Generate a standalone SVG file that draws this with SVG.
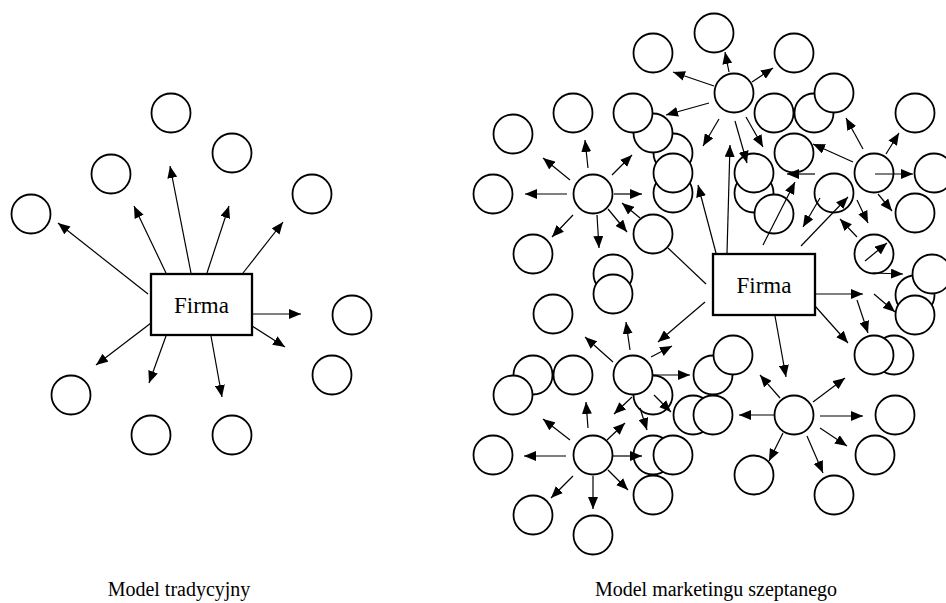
<svg xmlns="http://www.w3.org/2000/svg" width="946" height="603" viewBox="0 0 946 603">
<style>
.n{fill:#fff;stroke:#000;stroke-width:1.8}
.b{fill:#fff;stroke:#000;stroke-width:2.3}
.t{font-family:"Liberation Serif","Times New Roman",serif;fill:#000}
.e line{stroke:#000;stroke-width:1.2;marker-end:url(#ah)}
.e line.p{marker-end:none}
</style>
<defs>
<marker id="ah" viewBox="0 0 12 10" refX="12" refY="5" markerWidth="12" markerHeight="10" markerUnits="userSpaceOnUse" orient="auto"><path d="M0,0 L12,5 L0,10 z" fill="#000"/></marker>
</defs>
<rect width="946" height="603" fill="#fff"/>
<g id="left-nodes">
<g id="l1"><circle class="n" cx="171" cy="113" r="19.5"/></g>
<g id="l2"><circle class="n" cx="232" cy="153" r="19.5"/></g>
<g id="l3"><circle class="n" cx="111" cy="174" r="19.5"/></g>
<g id="l4"><circle class="n" cx="312" cy="194" r="19.5"/></g>
<g id="l5"><circle class="n" cx="31" cy="214" r="19.5"/></g>
<g id="l6"><circle class="n" cx="352" cy="315" r="19.5"/></g>
<g id="l7"><circle class="n" cx="332" cy="375" r="19.5"/></g>
<g id="l8"><circle class="n" cx="71" cy="395" r="19.5"/></g>
<g id="l9"><circle class="n" cx="151" cy="435" r="19.5"/></g>
<g id="l10"><circle class="n" cx="232" cy="435" r="19.5"/></g>
<g id="firma-left"><rect class="b" x="151" y="274" width="101" height="61"/><text class="t" x="201.5" y="313" font-size="23" text-anchor="middle">Firma</text></g>
</g>
<g id="right-nodes">
<g id="r1"><circle class="n" cx="653" cy="53" r="19.5"/></g>
<g id="r2"><circle class="n" cx="714" cy="33" r="19.5"/></g>
<g id="r3"><circle class="n" cx="794" cy="53" r="19.5"/></g>
<g id="r4"><circle class="n" cx="734" cy="93" r="19.5"/></g>
<g id="r5"><circle class="n" cx="774" cy="113" r="19.5"/></g>
<g id="r6"><circle class="n" cx="814" cy="113" r="19.5"/></g>
<g id="r7"><circle class="n" cx="834" cy="93" r="19.5"/></g>
<g id="r8"><circle class="n" cx="915" cy="113" r="19.5"/></g>
<g id="r9"><circle class="n" cx="794" cy="153" r="19.5"/></g>
<g id="r10"><circle class="n" cx="673" cy="193" r="19.5"/></g>
<g id="r11"><circle class="n" cx="673" cy="153" r="19.5"/></g>
<g id="r12"><circle class="n" cx="653" cy="133" r="19.5"/></g>
<g id="r13"><circle class="n" cx="633" cy="113" r="19.5"/></g>
<g id="r14"><circle class="n" cx="673" cy="173" r="19.5"/></g>
<g id="r15"><circle class="n" cx="573" cy="113" r="19.5"/></g>
<g id="r16"><circle class="n" cx="513" cy="134" r="19.5"/></g>
<g id="r17"><circle class="n" cx="493" cy="194" r="19.5"/></g>
<g id="r18"><circle class="n" cx="593" cy="194" r="19.5"/></g>
<g id="r19"><circle class="n" cx="653" cy="234" r="19.5"/></g>
<g id="r20"><circle class="n" cx="533" cy="254" r="19.5"/></g>
<g id="r21"><circle class="n" cx="553" cy="314" r="19.5"/></g>
<g id="r22"><circle class="n" cx="613" cy="274" r="19.5"/></g>
<g id="r23"><circle class="n" cx="613" cy="294" r="19.5"/></g>
<g id="r24"><circle class="n" cx="754" cy="193" r="19.5"/></g>
<g id="r25"><circle class="n" cx="754" cy="173" r="19.5"/></g>
<g id="r26"><circle class="n" cx="774" cy="214" r="19.5"/></g>
<g id="r27"><circle class="n" cx="834" cy="193" r="19.5"/></g>
<g id="r28"><circle class="n" cx="874" cy="173" r="19.5"/></g>
<g id="r29"><circle class="n" cx="934" cy="173" r="19.5"/></g>
<g id="r30"><circle class="n" cx="915" cy="213" r="19.5"/></g>
<g id="r31"><circle class="n" cx="874" cy="254" r="19.5"/></g>
<g id="r32"><circle class="n" cx="915" cy="295" r="19.5"/></g>
<g id="r33"><circle class="n" cx="932" cy="274" r="19.5"/></g>
<g id="r34"><circle class="n" cx="915" cy="315" r="19.5"/></g>
<g id="r35"><circle class="n" cx="894" cy="355" r="19.5"/></g>
<g id="r36"><circle class="n" cx="874" cy="355" r="19.5"/></g>
<g id="r37"><circle class="n" cx="713" cy="375" r="19.5"/></g>
<g id="r38"><circle class="n" cx="733" cy="355" r="19.5"/></g>
<g id="r39"><circle class="n" cx="693" cy="415" r="19.5"/></g>
<g id="r40"><circle class="n" cx="713" cy="415" r="19.5"/></g>
<g id="r41"><circle class="n" cx="794" cy="415" r="19.5"/></g>
<g id="r42"><circle class="n" cx="895" cy="415" r="19.5"/></g>
<g id="r43"><circle class="n" cx="875" cy="455" r="19.5"/></g>
<g id="r44"><circle class="n" cx="754" cy="475" r="19.5"/></g>
<g id="r45"><circle class="n" cx="834" cy="495" r="19.5"/></g>
<g id="r46"><circle class="n" cx="533" cy="375" r="19.5"/></g>
<g id="r47"><circle class="n" cx="573" cy="375" r="19.5"/></g>
<g id="r48"><circle class="n" cx="513" cy="395" r="19.5"/></g>
<g id="r49"><circle class="n" cx="653" cy="395" r="19.5"/></g>
<g id="r50"><circle class="n" cx="633" cy="375" r="19.5"/></g>
<g id="r51"><circle class="n" cx="593" cy="455" r="19.5"/></g>
<g id="r52"><circle class="n" cx="493" cy="455" r="19.5"/></g>
<g id="r53"><circle class="n" cx="653" cy="455" r="19.5"/></g>
<g id="r54"><circle class="n" cx="673" cy="455" r="19.5"/></g>
<g id="r55"><circle class="n" cx="653" cy="495" r="19.5"/></g>
<g id="r56"><circle class="n" cx="533" cy="515" r="19.5"/></g>
<g id="r57"><circle class="n" cx="593" cy="535" r="19.5"/></g>
<g id="firma-right"><rect class="b" x="713" y="254" width="102" height="61"/><text class="t" x="764" y="293" font-size="23" text-anchor="middle">Firma</text></g>
</g>
<g id="connectors" class="e">
<line x1="148" y1="294" x2="58" y2="223"/>
<line x1="166" y1="273" x2="134" y2="206"/>
<line x1="191" y1="273" x2="170" y2="166"/>
<line x1="207" y1="273" x2="229" y2="206"/>
<line x1="243" y1="273" x2="283" y2="222"/>
<line x1="252" y1="314" x2="301" y2="314"/>
<line x1="252" y1="326" x2="285" y2="347"/>
<line x1="211" y1="336" x2="222" y2="397"/>
<line x1="166" y1="336" x2="149" y2="383"/>
<line x1="151" y1="323" x2="96" y2="365"/>

<line x1="815" y1="294" x2="863" y2="294"/>
<line x1="815" y1="306" x2="848" y2="343"/>
<line x1="775" y1="316" x2="786" y2="377"/>
<line x1="705" y1="302" x2="658" y2="342"/>
<line class="p" x1="668" y1="248" x2="706" y2="284"/>
<line x1="716" y1="253" x2="698" y2="185"/>
<line x1="727" y1="253" x2="730" y2="145"/>
<line x1="763" y1="245" x2="795" y2="182"/>
<line x1="801" y1="246" x2="848" y2="197"/>

<line x1="714" y1="86" x2="673" y2="72"/>
<line x1="709" y1="103" x2="666" y2="115"/>
<line x1="719" y1="119" x2="703" y2="146"/>
<line x1="729" y1="72" x2="725" y2="52"/>
<line x1="752" y1="82" x2="773" y2="68"/>
<line x1="746" y1="117" x2="763" y2="147"/>
<line x1="735" y1="121" x2="747" y2="163"/>

<line x1="567" y1="194" x2="525" y2="194"/>
<line x1="570" y1="180" x2="543" y2="158"/>
<line x1="588" y1="168" x2="585" y2="140"/>
<line x1="612" y1="175" x2="632" y2="155"/>
<line x1="614" y1="194" x2="642" y2="194"/>
<line x1="608" y1="209" x2="627" y2="232"/>
<line x1="597" y1="215" x2="599" y2="248"/>
<line x1="573" y1="215" x2="552" y2="237"/>
<line x1="640" y1="218" x2="622" y2="203"/>

<line x1="863" y1="149" x2="846" y2="118"/>
<line x1="853" y1="162" x2="813" y2="144"/>
<line x1="886" y1="154" x2="899" y2="133"/>
<line x1="875" y1="174" x2="913" y2="174"/>
<line x1="878" y1="194" x2="892" y2="211"/>
<line x1="857" y1="200" x2="868" y2="223"/>
<line x1="815" y1="174" x2="787" y2="174"/>
<line x1="820" y1="198" x2="803" y2="227"/>
<line x1="857" y1="237" x2="840" y2="219"/>
<line x1="865" y1="261" x2="887" y2="243"/>
<line x1="873" y1="273" x2="903" y2="274"/>
<line x1="857" y1="300" x2="868" y2="333"/>
<line x1="874" y1="294" x2="895" y2="312"/>

<line x1="780" y1="398" x2="760" y2="375"/>
<line x1="813" y1="402" x2="845" y2="378"/>
<line x1="774" y1="415" x2="739" y2="415"/>
<line x1="820" y1="416" x2="863" y2="416"/>
<line x1="820" y1="428" x2="847" y2="446"/>
<line x1="807" y1="436" x2="823" y2="473"/>
<line x1="783" y1="433" x2="769" y2="461"/>

<line x1="630" y1="350" x2="626" y2="322"/>
<line x1="613" y1="362" x2="585" y2="337"/>
<line x1="651" y1="357" x2="672" y2="346"/>
<line x1="653" y1="375" x2="690" y2="375"/>
<line x1="654" y1="395" x2="671" y2="412"/>
<line x1="640" y1="408" x2="647" y2="430"/>
<line x1="632" y1="397" x2="614" y2="414"/>

<line x1="588" y1="428" x2="586" y2="402"/>
<line x1="570" y1="440" x2="543" y2="419"/>
<line x1="607" y1="440" x2="625" y2="423"/>
<line x1="566" y1="456" x2="524" y2="456"/>
<line x1="613" y1="456" x2="642" y2="456"/>
<line x1="608" y1="470" x2="628" y2="490"/>
<line x1="593" y1="476" x2="593" y2="509"/>
<line x1="573" y1="476" x2="551" y2="498"/>
</g>
<g id="captions">
<text class="t" x="179" y="596" font-size="20" text-anchor="middle">Model tradycyjny</text>
<text class="t" x="716" y="596" font-size="20" text-anchor="middle">Model marketingu szeptanego</text>
</g>
</svg>
